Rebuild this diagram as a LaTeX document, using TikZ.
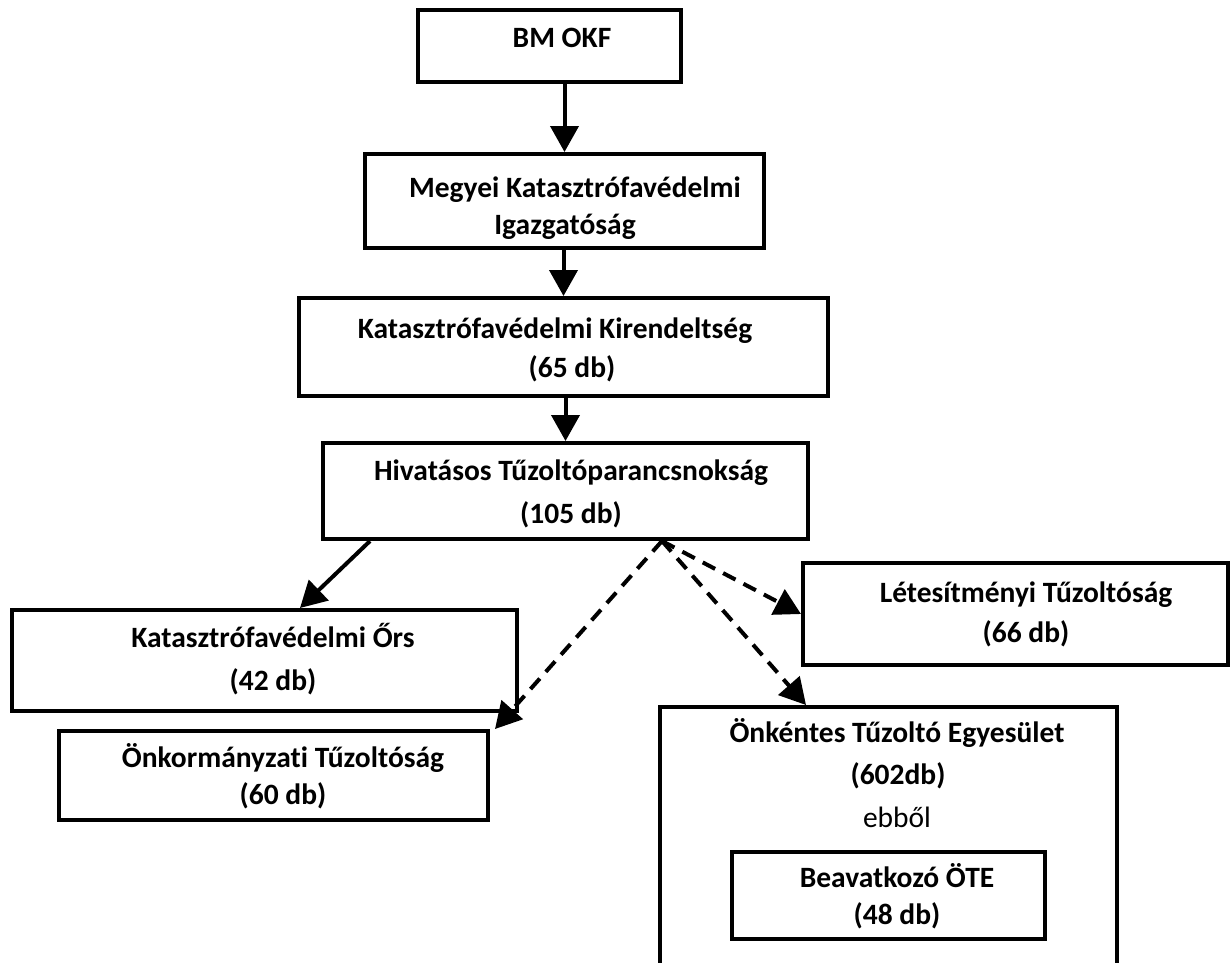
\documentclass[tikz,border=0pt]{standalone}
\usepackage{fontspec}
\setmainfont{Carlito}[Ligatures=NoCommon]
\usetikzlibrary{arrows.meta}
\begin{document}
\begin{tikzpicture}[x=1pt,y=-1pt,
  box/.style={draw, line width=4pt, rectangle, inner sep=0pt},
  lbl/.style={font=\fontsize{29.5}{32}\selectfont\bfseries, inner sep=0pt, text height=18.6pt, text depth=0pt, anchor=center},
  plainlbl/.style={font=\fontsize{29.5}{32}\selectfont, inner sep=0pt, text height=18.6pt, text depth=0pt, anchor=center},
  arr/.style={line width=4pt, -{Triangle[length=26pt,width=28pt]}},
  darr/.style={arr, dash pattern=on 14pt off 9pt}]
\useasboundingbox (0,0) rectangle (1230,962);
\clip (0,0) rectangle (1230,962);
% boxes
\node[box, minimum width=263pt, minimum height=72pt] (bm) at (549.5,46) {};
\node[box, minimum width=399pt, minimum height=94pt] (meg) at (564.5,201) {};
\node[box, minimum width=529pt, minimum height=98pt] (kir) at (563.5,347) {};
\node[box, minimum width=485pt, minimum height=96pt] (hiv) at (565.5,491) {};
\node[box, minimum width=505pt, minimum height=101pt] (ors) at (264.5,660.5) {};
\node[box, minimum width=429pt, minimum height=89pt] (onk) at (273.5,775.5) {};
\node[box, minimum width=425pt, minimum height=102pt] (let) at (1015.5,614) {};
\node[box, minimum width=457pt, minimum height=293pt] (ote) at (888.5,853.5) {};
\node[box, minimum width=313pt, minimum height=87pt] (bea) at (888.5,895.5) {};
% texts
\node[lbl] (t-bm) at (562,38) {BM OKF};
\node[lbl] (t-meg1) at (575,188) {Megyei Katasztrófavédelmi};
\node[lbl] (t-meg2) at (565,225) {Igazgatóság};
\node[lbl] (t-kir1) at (555,329) {Katasztrófavédelmi Kirendeltség};
\node[lbl] (t-kir2) at (572,368) {(65 db)};
\node[lbl] (t-hiv1) at (571,471) {Hivatásos Tűzoltóparancsnokság};
\node[lbl] (t-hiv2) at (571,514) {(105 db)};
\node[lbl] (t-ors1) at (273,638) {Katasztrófavédelmi Őrs};
\node[lbl] (t-ors2) at (273,681) {(42 db)};
\node[lbl] (t-onk1) at (283,758) {Önkormányzati Tűzoltóság};
\node[lbl] (t-onk2) at (283,795) {(60 db)};
\node[lbl] (t-let1) at (1026,593) {Létesítményi Tűzoltóság};
\node[lbl] (t-let2) at (1026,633) {(66 db)};
\node[lbl] (t-ote1) at (897,733) {Önkéntes Tűzoltó Egyesület};
\node[lbl] (t-ote2) at (898,775) {(602db)};
\node[plainlbl] (t-ote3) at (897,818) {ebből};
\node[lbl] (t-bea1) at (897,878) {Beavatkozó ÖTE};
\node[lbl] (t-bea2) at (897,915) {(48 db)};
% connectors
\draw[arr] (bm.south -| meg.north) -- (meg.north);
\draw[arr] (meg.south -| kir.north) -- (kir.north);
\draw[arr] (kir.south -| hiv.north) -- (hiv.north);
\draw[arr] ([xshift=49pt]hiv.south west) -- ([xshift=290pt]ors.north west);
\coordinate (dsrc) at ([xshift=-148pt]hiv.south east);
\draw[darr] (dsrc) -- ([xshift=5pt]onk.north east);
\draw[darr] (dsrc) -- (let.west);
\draw[darr] (dsrc) -- ([xshift=148pt]ote.north west);
\end{tikzpicture}
\end{document}
